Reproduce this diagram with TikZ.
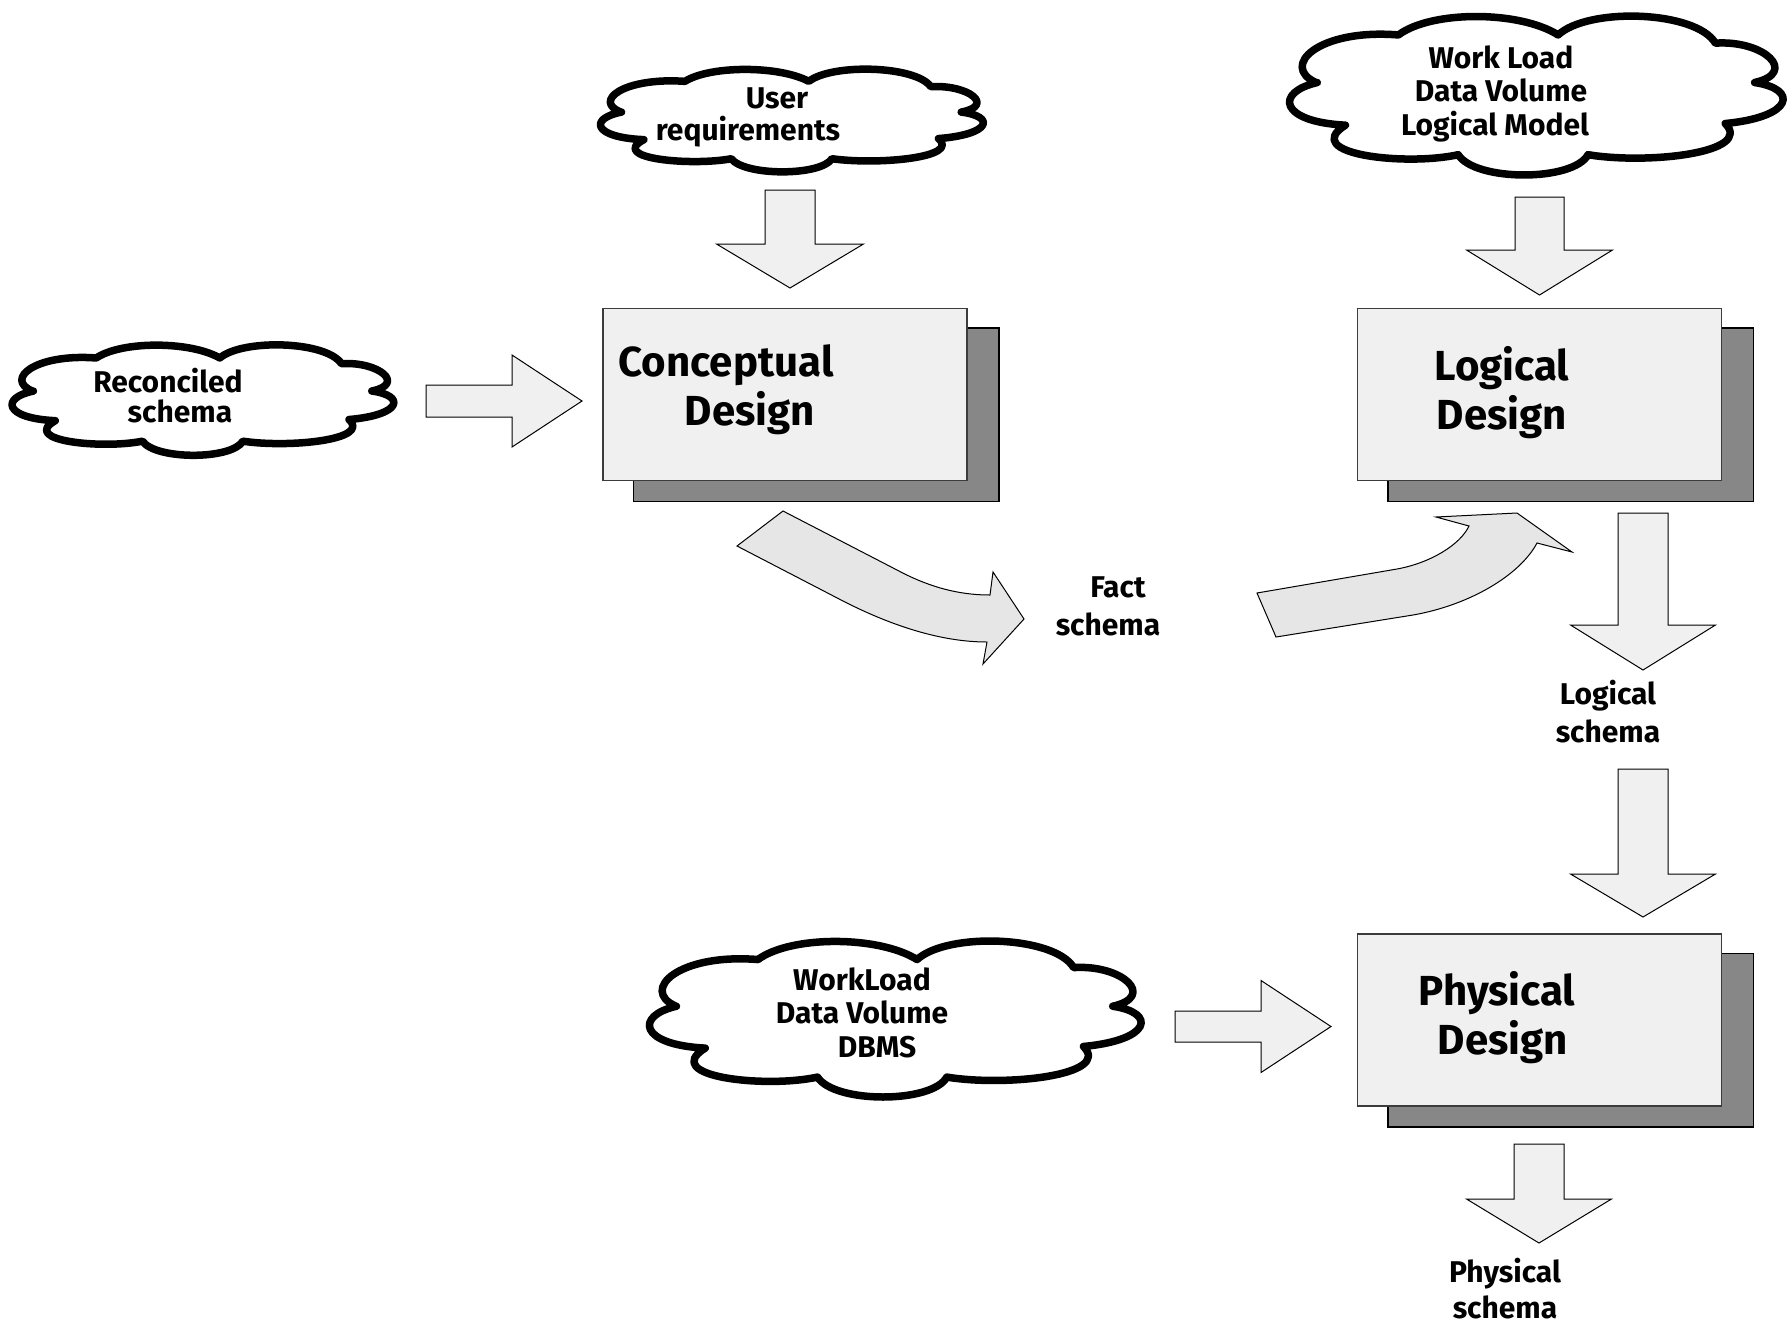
\documentclass[tikz,border=0pt]{standalone}
\usepackage{fontspec}
\setmainfont{Fira Sans}
\usetikzlibrary{backgrounds,calc}
\pgfdeclarelayer{paper}
\pgfsetlayers{paper,background,main}
\definecolor{boxfill}{HTML}{F0F0F0}
\definecolor{shadowfill}{HTML}{878787}
\definecolor{curvefill}{HTML}{E6E6E6}
\definecolor{boxline}{HTML}{3C3C3C}

\tikzset{
  % block arrow pointing down: shaft half width, shaft length, head half width, head length
  pics/dnarrow/.style n args={4}{code={
    \draw[blkarrow] (-#1,0) -- (#1,0) -- (#1,#2) -- (#3,#2) -- (0,{#2+#4})
      -- (-#3,#2) -- (-#1,#2) -- cycle;
  }},
  % block arrow pointing right
  pics/rtarrow/.style n args={4}{code={
    \draw[blkarrow] (0,-#1) -- (#2,-#1) -- (#2,-#3) -- ({#2+#4},0)
      -- (#2,#3) -- (#2,#1) -- (0,#1) -- cycle;
  }},
  % scalloped cloud in a unit box centred on the origin
  pics/puffcloud/.style={code={
    \draw[cloudline] (-0.455,-0.07)
      .. controls (-0.53,-0.17) and (-0.45,-0.40) .. (-0.287,-0.36)
      .. controls (-0.22,-0.51) and (-0.04,-0.51) .. (0.039,-0.36)
      .. controls (0.10,-0.53) and (0.32,-0.51) .. (0.36,-0.31)
      .. controls (0.46,-0.33) and (0.53,-0.13) .. (0.44,-0.07)
      .. controls (0.53,-0.03) and (0.52,0.14) .. (0.38,0.18)
      .. controls (0.44,0.36) and (0.22,0.43) .. (0.10,0.37)
      .. controls (0.07,0.535) and (-0.13,0.535) .. (-0.165,0.37)
      .. controls (-0.27,0.44) and (-0.49,0.37) .. (-0.395,0.19)
      .. controls (-0.53,0.17) and (-0.54,-0.01) .. cycle;
  }},
}

\begin{document}
\begin{tikzpicture}[x=1pt,y=-1pt,
  cloudline/.style={draw=black, line width=7.5pt, fill=white, line join=round},
  designbox/.style={draw=boxline, line width=1.5pt, fill=boxfill, inner sep=0pt,
    minimum width=364pt, minimum height=172pt},
  shadowbox/.style={draw=black, line width=1.5pt, fill=shadowfill},
  blkarrow/.style={draw=black, line width=1pt, fill=boxfill, line join=miter},
  bendarrow/.style={draw=black, line width=1pt, fill=curvefill},
  bigtext/.style={font=\bfseries\fontsize{42}{49}\selectfont, align=center,
    anchor=base, inner sep=0pt},
  smalltext/.style={font=\bfseries\fontsize{30}{#1}\selectfont, align=center,
    anchor=base, inner sep=0pt},
]
\useasboundingbox (0,0) rectangle (1789,1326);
\begin{pgfonlayer}{paper}
  \fill[white] (0,0) rectangle (1789,1326);
\end{pgfonlayer}

% design steps (labels are placed by the baseline of their last line)
\node[designbox] (cd) at (785,394.5) {};
\node[designbox] (ld) at (1539.5,394.5) {};
\node[designbox] (pd) at (1539.5,1020) {};
\begin{scope}[on background layer]
  \foreach \b in {cd,ld,pd}
    \draw[shadowbox] ([shift={(31,20)}]\b.south west) rectangle ([shift={(31,20)}]\b.north east);
\end{scope}
\node[bigtext] (cdt) at (726,425) {Conceptual\\\hspace*{48pt}Design};
\node[bigtext] (ldt) at (1502,429) {Logical\\Design};
\node[bigtext] (pdt) at (1497,1054) {Physical\\\hspace*{12pt}Design};

% inputs
\coordinate (rec) at (205,399);
\coordinate (ureq) at (794,119.5);
\coordinate (wl) at (1539,94);
\coordinate (dbms) at (898,1017.5);
\pic[xscale=379,yscale=114] at (rec) {puffcloud};
\pic[xscale=380,yscale=106] at (ureq) {puffcloud};
\pic[xscale=490,yscale=164] at (wl) {puffcloud};
\pic[xscale=488,yscale=161] at (dbms) {puffcloud};

\node[smalltext=30] (rect) at (168,422) {Reconciled\\\hspace*{24pt}schema};
\node[smalltext=32] (ureqt) at (748,140) {\hspace*{58pt}User\\requirements};
\node[smalltext=33.5] (wlt) at (1495,135) {\hspace*{12pt}Work Load\\\hspace*{12pt}Data Volume\\Logical Model};
\node[smalltext=33.5] (dbmst) at (862,1057) {WorkLoad\\Data Volume\\\hspace*{30pt}DBMS};

% outputs
\node[smalltext=38] (fact) at (1108,635) {\hspace*{20pt}Fact\\schema};
\node[smalltext=38] (lsch) at (1608,742) {Logical\\schema};
\node[smalltext=36] (psch) at (1505,1318) {Physical\\schema};

% block arrows
\pic at (790,190) {dnarrow={25}{54}{73.5}{44}};
\pic at (1539.5,197) {dnarrow={24.5}{53}{73}{45}};
\pic at (1643,513) {dnarrow={25}{112}{72.5}{45}};
\pic at (1643,769) {dnarrow={25}{105}{72.5}{43}};
\pic at (1539,1144) {dnarrow={25}{55}{72.5}{44}};
\pic at (426,401) {rtarrow={16}{86}{46}{70}};
\pic at (1175,1026.5) {rtarrow={15.5}{86}{46}{70}};

% bent arrows around the fact schema
\draw[bendarrow] (783,511) -- (897,570) .. controls (925,585) and (955,595) .. (990,595)
  -- (993,572) -- (1024,619) -- (983,664) -- (987,642)
  .. controls (940,642) and (890,625) .. (843,601) -- (737,546) -- cycle;
\draw[bendarrow] (1257,593) -- (1397,569) .. controls (1430,563) and (1460,545) .. (1469,526)
  -- (1436,517) -- (1517,513) -- (1572,552) -- (1537,543)
  .. controls (1520,575) and (1470,605) .. (1413,615) -- (1276,637) -- cycle;
\end{tikzpicture}
\end{document}
